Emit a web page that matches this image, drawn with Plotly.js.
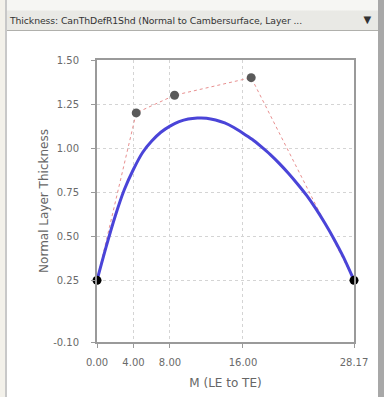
<!DOCTYPE html>
<html>
<head>
<meta charset="utf-8">
<script src="https://cdn.plot.ly/plotly-3.0.1.min.js"></script>
<style>
  html, body { margin: 0; padding: 0; width: 384px; height: 397px; overflow: hidden; background: #ffffff; }
  #wrap { position: relative; width: 384px; height: 397px; }
  #chart { position: absolute; left: 0; top: 0; width: 384px; height: 397px; }
  #titlebar { position: absolute; left: 7px; top: 0; width: 371px; height: 31px;
    background: linear-gradient(#f6f6f3 0px, #f6f6f3 10px, #e9e9e5 11px, #e9e9e5 31px);
    border-bottom: 1px solid #b0b0ac; font-family: "DejaVu Sans", sans-serif; font-size: 9.3px; color: #333;
    box-sizing: border-box; padding: 15px 0 0 3px; white-space: nowrap; overflow: hidden; letter-spacing: -0.1px; }
  #pin { position: absolute; right: 7px; top: 14px; font-size: 10px; color: #333; }
  #leftedge { position: absolute; left: 0; top: 0; width: 5px; height: 397px; background: #f3f1ea; border-right: 2px solid #c8c8c8; }
  #rightedge { position: absolute; right: 0; top: 0; width: 6px; height: 397px; background: #a8a8a8; }
</style>
</head>
<body>
<div id="wrap">
  <div id="chart"></div>
  <div id="leftedge"></div>
  <div id="rightedge"></div>
  <div id="titlebar">Thickness: CanThDefR1Shd (Normal to Cambersurface, Layer ...<span id="pin">&#9660;</span></div>
</div>
<script>
// Control points (dotted polygon)
const ctrlX = [0.00, 4.30, 8.50, 16.90, 28.17];
const ctrlY = [0.25, 1.20, 1.30, 1.40, 0.25];

// Thickness curve (blue)
const curveX = [0, 1, 2, 3, 4, 5, 6, 7, 8, 9, 10, 11, 12, 13, 14, 15, 16, 17, 18, 19, 20, 21, 22, 23, 24, 25, 26, 27, 28.17];
const curveY = [0.25, 0.44, 0.615, 0.765, 0.88, 0.975, 1.04, 1.09, 1.125, 1.15, 1.165, 1.171, 1.17, 1.16, 1.143, 1.117, 1.085,
                1.05, 1.008, 0.963, 0.912, 0.856, 0.795, 0.73, 0.655, 0.572, 0.482, 0.383, 0.25];

// Tick labels
const xTickVals = [0, 4, 8, 16, 28.17];
const xTickText = ["0.00", "4.00", "8.00", "16.00", "28.17"];
const yTickVals = [-0.10, 0.25, 0.50, 0.75, 1.00, 1.25, 1.50];
const yTickText = ["-0.10", "0.25", "0.50", "0.75", "1.00", "1.25", "1.50"];

const markerColors = ctrlX.map((x, i) => (i === 0 || i === ctrlX.length - 1) ? "#000000" : "#5a5a5a");

const traces = [
  {
    x: ctrlX, y: ctrlY, type: "scatter", mode: "lines",
    line: { color: "#e89090", width: 1, dash: "dot" },
    hoverinfo: "skip", cliponaxis: false
  },
  {
    x: curveX, y: curveY, type: "scatter", mode: "lines",
    line: { color: "#4a44d8", width: 3, shape: "spline", smoothing: 0.8 },
    hoverinfo: "skip", cliponaxis: false
  },
  {
    x: ctrlX, y: ctrlY, type: "scatter", mode: "markers",
    marker: { color: markerColors, size: 9 },
    hoverinfo: "skip", cliponaxis: false
  }
];

const tickFont = { family: "DejaVu Sans, sans-serif", size: 10, color: "#6a6a6a" };

const layout = {
  width: 384, height: 397,
  margin: { l: 97, r: 30, t: 60, b: 55, pad: 0 },
  paper_bgcolor: "#ffffff", plot_bgcolor: "#ffffff",
  showlegend: false,
  xaxis: {
    range: [0, 28.17], tickmode: "array", tickvals: xTickVals, ticktext: xTickText,
    showgrid: true, gridcolor: "#d4d4d4", griddash: "dot", gridwidth: 1,
    showline: true, linecolor: "#9a9a9a", linewidth: 2, mirror: true,
    ticks: "outside", ticklen: 4, tickcolor: "#9a9a9a", ticklabelstandoff: 6,
    zeroline: false, tickfont: tickFont,
    title: { text: "M (LE to TE)", font: { family: "DejaVu Sans, sans-serif", size: 12, color: "#666" }, standoff: 12 }
  },
  yaxis: {
    range: [-0.10, 1.50], tickmode: "array", tickvals: yTickVals, ticktext: yTickText,
    showgrid: true, gridcolor: "#d4d4d4", griddash: "dot", gridwidth: 1,
    showline: true, linecolor: "#9a9a9a", linewidth: 2, mirror: true,
    ticks: "outside", ticklen: 4, tickcolor: "#9a9a9a", ticklabelstandoff: 10,
    zeroline: false, tickfont: tickFont,
    title: { text: "Normal Layer Thickness", font: { family: "DejaVu Sans, sans-serif", size: 12, color: "#666" }, standoff: 2 }
  }
};

Plotly.newPlot("chart", traces, layout, { displayModeBar: false, staticPlot: true });
</script>
</body>
</html>
